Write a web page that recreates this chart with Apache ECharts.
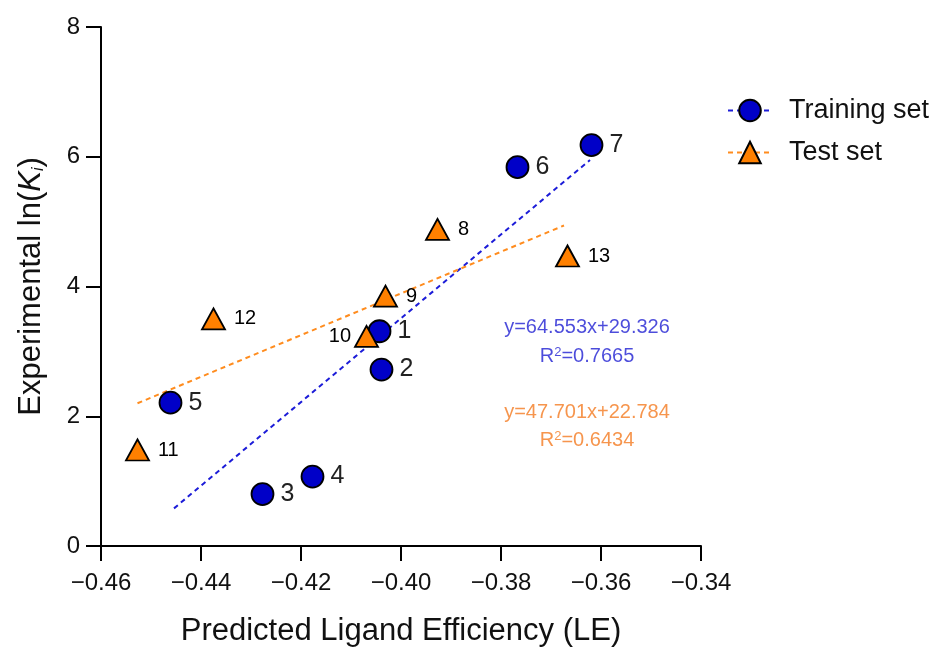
<!DOCTYPE html>
<html>
<head>
<meta charset="utf-8">
<script src="https://cdn.jsdelivr.net/npm/echarts@6/dist/echarts.min.js"></script>
<style>
html,body{margin:0;padding:0;background:#fff;}
#chart{width:935px;height:652px;}
</style>
</head>
<body>
<div id="chart"></div>
<script>
// ---- Data ----
const trainX = [-0.4043, -0.4039, -0.4277, -0.4177, -0.4461, -0.3767, -0.3619];
const trainY = [3.31, 2.72, 0.80, 1.07, 2.21, 5.84, 6.18];
const trainLabels = ['1', '2', '3', '4', '5', '6', '7'];

const testX = [-0.3927, -0.4031, -0.4069, -0.4527, -0.4375, -0.3667];
const testY = [4.88, 3.85, 3.23, 1.48, 3.50, 4.47];
const testLabels = ['8', '9', '10', '11', '12', '13'];

const trainFitX = [-0.4454, -0.3622];
const trainFitY = [0.58, 5.95];
const testFitX = [-0.4527, -0.3674];
const testFitY = [2.20, 4.94];

const trainEq = 'y=64.553x+29.326';
const trainR2 = '0.7665';
const testEq = 'y=47.701x+22.784';
const testR2 = '0.6434';

const xTicks = [-0.46, -0.44, -0.42, -0.40, -0.38, -0.36, -0.34];
const yTicks = [0, 2, 4, 6, 8];

// ---- Build option ----
const FONT = '"Liberation Sans", Arial, sans-serif';
const BLUE = '#0000C8';
const BLUE_LINE = '#1c1cd8';
const ORANGE = '#FF8000';
const ORANGE_LINE = '#FF8C1E';
const BLUE_TEXT = '#1f1fd2';
const ORANGE_TEXT = '#F47A20';

const zip = (xs, ys) => xs.map((x, i) => [x, ys[i]]);

const trainPts = trainX.map((x, i) => ({value: [x, trainY[i]], name: trainLabels[i]}));
const testPts = testX.map((x, i) => {
  const d = {value: [x, testY[i]], name: testLabels[i]};
  if (testLabels[i] === '10') d.label = {position: 'left', distance: 3};
  return d;
});

const fmtX = v => (v < 0 ? '\u2212' : '') + Math.abs(v).toFixed(2);

const option = {
  backgroundColor: '#fff',
  animation: false,
  textStyle: {fontFamily: FONT},
  grid: {left: 101, right: 234, top: 27, bottom: 103, containLabel: false},
  xAxis: {
    type: 'value',
    min: xTicks[0], max: xTicks[xTicks.length - 1], interval: 0.02,
    name: 'Predicted Ligand Efficiency (LE)',
    nameLocation: 'middle', nameGap: 70,
    nameTextStyle: {fontSize: 31, color: '#111', fontFamily: FONT},
    axisLine: {onZero: false, lineStyle: {color: '#000', width: 2}},
    axisTick: {show: true, length: 15, lineStyle: {color: '#000', width: 2}},
    axisLabel: {fontSize: 24, color: '#111', margin: 25, formatter: fmtX, fontFamily: FONT},
    splitLine: {show: false}
  },
  yAxis: {
    type: 'value',
    min: yTicks[0], max: yTicks[yTicks.length - 1], interval: 2,
    name: '{n|Experimental ln(}{k|K}{s|i}{n|)}',
    nameLocation: 'middle', nameGap: 54, nameRotate: 90,
    nameTextStyle: {
      fontSize: 31, color: '#111', fontFamily: FONT,
      rich: {
        n: {fontSize: 31, color: '#111', fontFamily: FONT},
        k: {fontSize: 31, color: '#111', fontStyle: 'italic', fontFamily: FONT},
        s: {fontSize: 16, color: '#111', fontStyle: 'italic', fontFamily: FONT, verticalAlign: 'bottom', padding: [14, 0, 0, 0]}
      }
    },
    axisLine: {onZero: false, lineStyle: {color: '#000', width: 2}},
    axisTick: {show: true, length: 15, lineStyle: {color: '#000', width: 2}},
    axisLabel: {fontSize: 24, color: '#111', margin: 21, fontFamily: FONT},
    splitLine: {show: false}
  },
  legend: {
    data: ['Training set', 'Test set'],
    orient: 'vertical',
    left: 722, top: 92,
    itemWidth: 44, itemHeight: 27, itemGap: 15,
    textStyle: {fontSize: 27, color: '#111', fontFamily: FONT, padding: [0, 0, 0, 12]}
  },
  series: [
    {
      name: 'Training set', type: 'line',
      data: zip(trainFitX, trainFitY),
      symbol: 'circle', showSymbol: false, symbolSize: 22,
      itemStyle: {color: BLUE, borderColor: '#000', borderWidth: 1.5},
      lineStyle: {color: BLUE_LINE, width: 2, type: [5, 4]},
      z: 2, silent: true
    },
    {
      name: 'Test set', type: 'line',
      data: zip(testFitX, testFitY),
      symbol: 'triangle', showSymbol: false, symbolSize: 22,
      itemStyle: {color: ORANGE, borderColor: '#000', borderWidth: 1.5},
      lineStyle: {color: ORANGE_LINE, width: 2, type: [5, 4]},
      z: 2, silent: true
    },
    {
      name: 'Training points', type: 'scatter',
      data: trainPts,
      symbol: 'circle', symbolSize: 22,
      itemStyle: {color: BLUE, borderColor: '#000', borderWidth: 1.8, opacity: 1},
      label: {show: true, position: 'right', distance: 6, formatter: p => p.name,
              fontSize: 25, color: '#222', fontFamily: FONT},
      z: 3
    },
    {
      name: 'Test points', type: 'scatter',
      data: testPts,
      symbol: 'triangle', symbolSize: [23, 21],
      itemStyle: {color: ORANGE, borderColor: '#000', borderWidth: 1.8, opacity: 1},
      label: {show: true, position: 'right', distance: 8, formatter: p => p.name,
              fontSize: 20, color: '#000', fontFamily: FONT},
      z: 4
    },
    {
      name: 'Annotations', type: 'scatter', silent: true,
      symbolSize: 0,
      data: [
        {value: [-0.3628, 3.37], label: {formatter: trainEq, color: BLUE_TEXT}},
        {value: [-0.3628, 2.92], label: {formatter: '{n|R}{p|2}{n|=' + trainR2 + '}', color: BLUE_TEXT}},
        {value: [-0.3628, 2.06], label: {formatter: testEq, color: ORANGE_TEXT}},
        {value: [-0.3628, 1.62], label: {formatter: '{n|R}{p|2}{n|=' + testR2 + '}', color: ORANGE_TEXT}}
      ],
      label: {
        show: true, position: 'inside', fontSize: 20, fontFamily: FONT,
        rich: {
          n: {fontSize: 20, fontFamily: FONT},
          p: {fontSize: 13, fontFamily: FONT, verticalAlign: 'top', padding: [0, 0, 9, 0]}
        }
      },
      z: 5
    }
  ]
};

const chart = echarts.init(document.getElementById('chart'), null, {renderer: 'canvas'});
chart.setOption(option);
</script>
</body>
</html>
